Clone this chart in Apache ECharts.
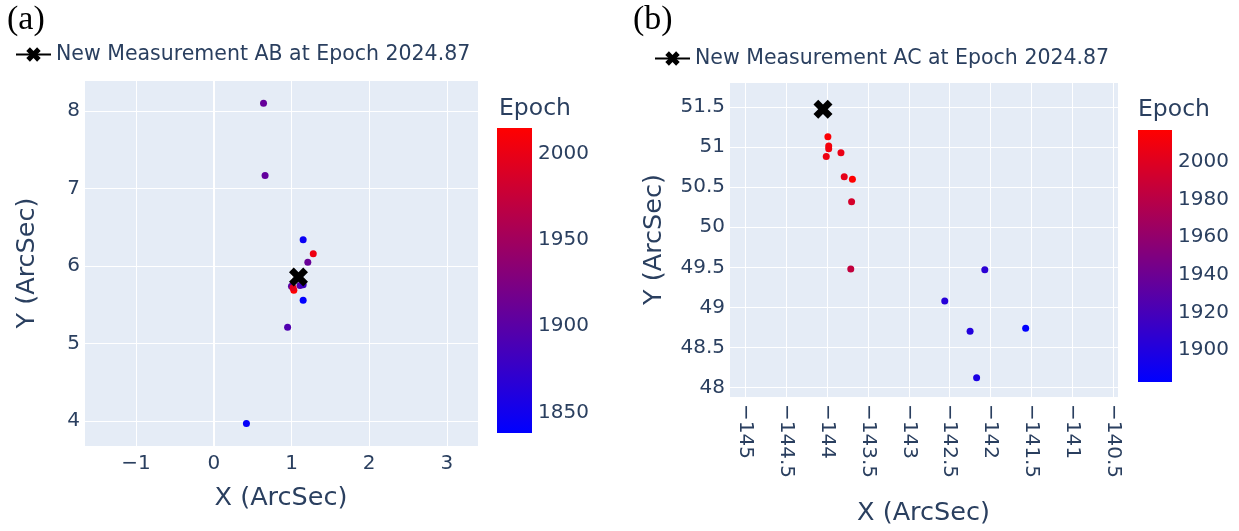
<!DOCTYPE html>
<html><head><meta charset="utf-8">
<script src="https://cdn.jsdelivr.net/npm/echarts@6/dist/echarts.min.js"></script>
<style>html,body{margin:0;padding:0;background:#fff}#c{width:1239px;height:531px}</style>
</head><body><div id="c"></div>
<script>
// ---- data: panel (a) AB ----
const abX = [0.64, 0.66, 1.15, 1.28, 1.21, 1.00, 1.11, 1.15, 1.03, 1.02, 1.15, 0.95, 0.42];
const abY = [8.10, 7.17, 6.34, 6.16, 6.05, 5.74, 5.75, 5.76, 5.69, 5.72, 5.56, 5.21, 3.97];
const abEpoch = [1908, 1906, 1845, 2003, 1910, 1900, 1895, 1880, 2015, 1995, 1838, 1893, 1842];
const abNew = [1.09, 5.86];
const abEpochRange = [1838, 2015];
const abTicksX = [-1, 0, 1, 2, 3];
const abTicksY = [4, 5, 6, 7, 8];
const abBarTicks = [1850, 1900, 1950, 2000];
// ---- data: panel (b) AC ----
const acX = [-143.99, -143.98, -143.98, -144.01, -143.83, -143.79, -143.69, -143.70, -143.71, -142.07, -142.56, -142.25, -141.57, -142.17];
const acY = [51.13, 51.015, 50.98, 50.885, 50.93, 50.63, 50.60, 50.32, 49.48, 49.47, 49.08, 48.70, 48.74, 48.12];
const acEpoch = [2015, 2012, 2010, 2008, 2006, 2004, 2017, 1995, 1985, 1905, 1903, 1901, 1883, 1897];
const acNew = [-144.05, 51.475];
const acEpochRange = [1883, 2017];
const acTicksX = [-145, -144.5, -144, -143.5, -143, -142.5, -142, -141.5, -141, -140.5];
const acTicksY = [48, 48.5, 49, 49.5, 50, 50.5, 51, 51.5];
const acBarTicks = [1900, 1920, 1940, 1960, 1980, 2000];
const nameAB = 'New Measurement AB at Epoch 2024.87';
const nameAC = 'New Measurement AC at Epoch 2024.87';

const FONT = 'DejaVu Sans';
const TXT = '#2a3f5f';
const BG = '#E5ECF6';
const xPath = 'path://M2.5,0 L5,2.5 L7.5,0 L10,2.5 L7.5,5 L10,7.5 L7.5,10 L5,7.5 L2.5,10 L0,7.5 L2.5,5 L0,2.5 Z';
const fmt = v => String(v).replace('-', '\u2212');

function mainX(grid, min, max, split, ticks, extra) {
  return Object.assign({
    gridIndex: grid, type: 'value', min: min, max: max, splitNumber: split,
    axisLine: {show: false}, axisTick: {show: false},
    splitLine: {show: true, lineStyle: {color: '#ffffff', width: 1}},
    axisLabel: {customValues: ticks, formatter: fmt, fontFamily: FONT, fontSize: 20, color: TXT, margin: 8},
    name: 'X (ArcSec)', nameLocation: 'middle',
    nameTextStyle: {fontFamily: FONT, fontSize: 25.5, color: TXT}
  }, extra);
}
function mainY(grid, min, max, split, ticks, gap) {
  return {
    gridIndex: grid, type: 'value', min: min, max: max, splitNumber: split,
    axisLine: {show: false}, axisTick: {show: false},
    splitLine: {show: true, lineStyle: {color: '#ffffff', width: 1}},
    axisLabel: {customValues: ticks, formatter: fmt, fontFamily: FONT, fontSize: 20, color: TXT, margin: 4},
    name: 'Y (ArcSec)', nameLocation: 'middle', nameGap: gap,
    nameTextStyle: {fontFamily: FONT, fontSize: 25.5, color: TXT}
  };
}
function barY(grid, range, ticks) {
  return {
    gridIndex: grid, type: 'value', position: 'right', min: range[0], max: range[1],
    axisLine: {show: false}, axisTick: {show: false}, splitLine: {show: false},
    axisLabel: {customValues: ticks, formatter: v => String(v), fontFamily: FONT, fontSize: 20, color: TXT, margin: 6}
  };
}
function barItem(params, api) {
  const p0 = api.coord([0, api.value(2)]);
  const p1 = api.coord([1, api.value(1)]);
  return {
    type: 'rect',
    shape: {x: p0[0], y: p0[1], width: p1[0] - p0[0], height: p1[1] - p0[1]},
    style: {fill: new echarts.graphic.LinearGradient(0, 0, 0, 1, [
      {offset: 0, color: '#ff0000'}, {offset: 1, color: '#0000ff'}])}
  };
}
const titleStyle = {fontFamily: 'Liberation Serif', fontSize: 34, fontWeight: 'normal', color: '#000'};
const epochStyle = {fontFamily: FONT, fontSize: 23.5, fontWeight: 'normal', color: TXT};
const legendText = {fontFamily: FONT, fontSize: 20.5, color: TXT};

const option = {
  animation: false,
  backgroundColor: '#ffffff',
  title: [
    {text: '(a)', left: 7, top: 3, padding: 0, textStyle: titleStyle},
    {text: '(b)', left: 633, top: 3, padding: 0, textStyle: titleStyle},
    {text: 'Epoch', left: 499, top: 97, padding: 0, textStyle: epochStyle},
    {text: 'Epoch', left: 1138, top: 98, padding: 0, textStyle: epochStyle}
  ],
  legend: [
    {data: [nameAB], left: 15, top: 44, padding: 0, itemWidth: 35, itemHeight: 18, textStyle: legendText},
    {data: [nameAC], left: 654, top: 48, padding: 0, itemWidth: 35, itemHeight: 18, textStyle: legendText}
  ],
  grid: [
    {left: 84, top: 80, width: 394, height: 366, show: true, backgroundColor: BG, borderWidth: 0},
    {left: 729, top: 82, width: 389, height: 320, show: true, backgroundColor: BG, borderWidth: 0},
    {left: 497, top: 128, width: 35, height: 305},
    {left: 1138, top: 130, width: 34, height: 252}
  ],
  xAxis: [
    mainX(0, -1.67, 3.4, 5, abTicksX, {nameGap: 39}),
    mainX(1, -145.2, -140.44, 10, acTicksX, {nameGap: 103, axisLabel: {customValues: acTicksX, formatter: fmt, fontFamily: FONT, fontSize: 20, color: TXT, margin: 7, rotate: -90}}),
    {gridIndex: 2, type: 'value', min: 0, max: 1, show: false},
    {gridIndex: 3, type: 'value', min: 0, max: 1, show: false}
  ],
  yAxis: [
    mainY(0, 3.68, 8.4, 5, abTicksY, 44),
    mainY(1, 47.88, 51.815, 8, acTicksY, 62),
    barY(2, abEpochRange, abBarTicks),
    barY(3, acEpochRange, acBarTicks)
  ],
  visualMap: [
    {type: 'continuous', show: false, seriesIndex: 0, dimension: 2, min: abEpochRange[0], max: abEpochRange[1], inRange: {color: ['#0000ff', '#ff0000']}},
    {type: 'continuous', show: false, seriesIndex: 2, dimension: 2, min: acEpochRange[0], max: acEpochRange[1], inRange: {color: ['#0000ff', '#ff0000']}}
  ],
  series: [
    {name: 'AB history', type: 'scatter', xAxisIndex: 0, yAxisIndex: 0, symbolSize: 7, z: 3,
     itemStyle: {opacity: 1},
     data: abX.map((x, i) => [x, abY[i], abEpoch[i]]),
     markLine: {silent: true, symbol: 'none', label: {show: false}, lineStyle: {color: '#ffffff', width: 2, type: 'solid'}, data: [{xAxis: 0}]}},
    {name: nameAB, type: 'line', xAxisIndex: 0, yAxisIndex: 0, z: 5, symbol: xPath, symbolSize: 19, showSymbol: true,
     itemStyle: {color: '#000'}, lineStyle: {color: '#000', width: 2}, data: [abNew]},
    {name: 'AC history', type: 'scatter', xAxisIndex: 1, yAxisIndex: 1, symbolSize: 7, z: 3,
     itemStyle: {opacity: 1},
     data: acX.map((x, i) => [x, acY[i], acEpoch[i]])},
    {name: nameAC, type: 'line', xAxisIndex: 1, yAxisIndex: 1, z: 5, symbol: xPath, symbolSize: 19, showSymbol: true,
     itemStyle: {color: '#000'}, lineStyle: {color: '#000', width: 2}, data: [acNew]},
    {name: 'barA', type: 'custom', xAxisIndex: 2, yAxisIndex: 2, renderItem: barItem, silent: true,
     encode: {x: 0, y: [1, 2]}, data: [[0, abEpochRange[0], abEpochRange[1]]]},
    {name: 'barB', type: 'custom', xAxisIndex: 3, yAxisIndex: 3, renderItem: barItem, silent: true,
     encode: {x: 0, y: [1, 2]}, data: [[0, acEpochRange[0], acEpochRange[1]]]}
  ]
};
echarts.init(document.getElementById('c'), null, {renderer: 'canvas'}).setOption(option);
</script></body></html>
